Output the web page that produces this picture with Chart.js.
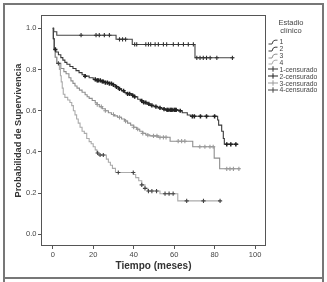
<!DOCTYPE html>
<html><head><meta charset="utf-8">
<script src="https://cdn.jsdelivr.net/npm/chart.js@4/dist/chart.umd.min.js"></script>
<style>
html,body{margin:0;padding:0;background:#fff;}
#wrap{position:relative;width:327px;height:282px;overflow:hidden;background:#fff;}
#c{position:absolute;left:0;top:0;}
#frame{position:absolute;left:3px;top:3px;width:321px;height:276px;border:2px solid #777;box-sizing:border-box;}
#frame2{position:absolute;left:3px;top:279px;width:321px;height:10px;border-left:2px solid #777;border-right:2px solid #777;box-sizing:border-box;}
#ltitle{position:absolute;left:266px;top:19px;width:50px;text-align:center;font:7.5px "Liberation Sans",Arial,sans-serif;line-height:7.8px;color:#444;}
#legend{position:absolute;left:268px;top:38.3px;font:6.8px "Liberation Sans",Arial,sans-serif;color:#444;}
.row{height:6.9px;display:flex;align-items:center;white-space:nowrap;}
.row svg{width:10px;height:6px;margin-right:1.5px;flex:none;}
</style></head>
<body>
<div id="wrap">
<canvas id="c" width="327" height="282"></canvas>
<div id="frame"></div><div id="frame2"></div>
<div id="ltitle">Estadio<br>clínico</div>
<div id="legend"></div>
</div>
<script>
// ---- data ----
const stageLabels = ['1', '2', '3', '4'];
const censorSuffix = '-censurado';
const xTicks = [0, 20, 40, 60, 80, 100];
const yTicks = [0, 0.2, 0.4, 0.6, 0.8, 1.0];

const times1 = [0, 0.5, 2, 31.3, 39.3, 70.3, 89.5];
const surv1  = [1.0, 0.984, 0.967, 0.947, 0.922, 0.857, 0.857];
const censor1 = [14, 21.4, 23, 25.5, 28, 33, 34.5, 36, 40.5, 41.5, 46, 47.3, 48.4, 50.6, 52.2, 54.7, 56.3, 59.6, 62.1, 64.6, 67, 69.5, 71.2, 72.8, 74.4, 76, 77.8, 81.1, 88.8];

const times2 = [0, 0.3, 0.7, 1.5, 2.8, 4.0, 5.0, 6.0, 7.0, 8.5, 10, 11.5, 13, 14.5, 16, 18, 20, 22, 24, 26, 28, 29.5, 31, 32.5, 34, 35.5, 37, 39, 40.5, 42, 43.5, 45, 46.5, 48, 50, 52, 54, 56, 62, 64, 66.5, 68, 81.5, 82, 83.5, 84.3, 84.8, 91.8];
const surv2  = [1.0, 0.95, 0.898, 0.885, 0.872, 0.858, 0.846, 0.835, 0.826, 0.815, 0.805, 0.795, 0.785, 0.775, 0.768, 0.76, 0.752, 0.747, 0.742, 0.737, 0.732, 0.726, 0.716, 0.706, 0.697, 0.688, 0.682, 0.675, 0.668, 0.656, 0.648, 0.64, 0.633, 0.626, 0.62, 0.614, 0.608, 0.604, 0.6, 0.59, 0.579, 0.573, 0.555, 0.53, 0.5, 0.465, 0.437, 0.437];
const censor2 = [1.3, 16, 21, 22, 22.5, 23.5, 24.5, 25, 26, 27, 28, 29, 30, 31.5, 33, 35, 37, 38, 39.5, 40.5, 44, 45, 46, 47.5, 49, 51, 53, 55, 56.5, 57, 58, 58.5, 59, 60, 60.5, 61, 63, 69, 70, 73, 76, 80, 86, 88, 90.5];

const times3 = [0, 0.3, 0.8, 1.2, 2.0, 4, 5.5, 6.6, 8, 9, 10, 11, 12, 13.2, 14.5, 16, 17, 18, 19.5, 21, 22, 23, 24.5, 26, 27.5, 29, 30.5, 32, 34, 35.5, 37, 38.5, 40, 41.5, 43, 44.5, 46, 48, 52, 58, 69.2, 79.8, 82.5, 92.5];
const surv3  = [1.0, 0.95, 0.9, 0.86, 0.83, 0.805, 0.79, 0.78, 0.76, 0.745, 0.733, 0.72, 0.71, 0.70, 0.69, 0.678, 0.668, 0.66, 0.65, 0.638, 0.63, 0.62, 0.61, 0.60, 0.59, 0.582, 0.575, 0.568, 0.56, 0.55, 0.54, 0.53, 0.52, 0.51, 0.50, 0.49, 0.482, 0.478, 0.471, 0.452, 0.425, 0.37, 0.318, 0.318];
const censor3 = [22, 24, 26, 30, 33, 36, 40, 42, 44.5, 47, 49.8, 51.5, 53, 54.7, 56, 62, 63.7, 65.3, 72.7, 75.2, 77.7, 79.3, 86, 87.6, 89.3, 92];

const times4 = [0, 0.3, 0.8, 1.3, 2, 3.3, 3.8, 4.2, 4.7, 5.2, 6, 7.4, 8.5, 9.4, 10.2, 11, 11.8, 12.6, 13.5, 14.5, 15.6, 16.8, 18, 19, 20, 21, 21.8, 22.5, 26.5, 27.5, 28.5, 29.5, 31, 39.9, 41, 42.5, 44, 45.6, 47, 53, 61.8, 83];
const surv4  = [1.0, 0.95, 0.9, 0.86, 0.83, 0.80, 0.77, 0.74, 0.71, 0.68, 0.665, 0.652, 0.64, 0.625, 0.60, 0.58, 0.56, 0.54, 0.52, 0.50, 0.49, 0.465, 0.45, 0.44, 0.425, 0.41, 0.395, 0.385, 0.365, 0.35, 0.335, 0.32, 0.30, 0.29, 0.275, 0.26, 0.24, 0.223, 0.21, 0.197, 0.162, 0.162];
const censor4 = [2.8, 22.2, 23.4, 25, 32.4, 39.8, 44, 45.6, 47.3, 49, 51.3, 55.5, 57.5, 59.5, 66.2, 74.5, 82.7];

// ---- styles ----
const lineColors = ['#444444', '#3a3a3a', '#8e8e8e', '#ababab'];
const censorColors = ['#333333', '#222222', '#9a9a9a', '#444444'];

function stepAt(times, surv, t) {
  let v = surv[0];
  for (let i = 0; i < times.length; i++) { if (times[i] <= t) v = surv[i]; else break; }
  return v;
}

const curves = [[times1, surv1, censor1], [times2, surv2, censor2], [times3, surv3, censor3], [times4, surv4, censor4]];
const datasets = [];
curves.forEach((c, i) => {
  datasets.push({
    label: stageLabels[i],
    data: c[0].map((t, j) => ({x: t, y: c[1][j]})),
    stepped: 'before', borderColor: lineColors[i], borderWidth: 1.1,
    pointRadius: 0, fill: false, kind: 'line', order: 2
  });
});
curves.forEach((c, i) => {
  datasets.push({
    label: stageLabels[i] + censorSuffix,
    data: c[2].map(t => ({x: t, y: stepAt(c[0], c[1], t)})),
    showLine: false, pointStyle: 'cross', pointRadius: 2.1,
    borderColor: censorColors[i], backgroundColor: censorColors[i],
    borderWidth: i === 1 ? 1.5 : 1.1, kind: 'censor', order: 1
  });
});

const framePlugin = {
  id: 'frame',
  afterDraw(chart) {
    const a = chart.chartArea, ctx = chart.ctx;
    ctx.save();
    ctx.strokeStyle = '#555';
    ctx.lineWidth = 1;
    ctx.strokeRect(a.left + 0.5, a.top + 0.5, a.right - a.left - 1, a.bottom - a.top - 1);
    ctx.restore();
  }
};

const tickFont = {family: '"Liberation Sans", Arial, sans-serif', size: 7.5};
const chart = new Chart(document.getElementById('c'), {
  type: 'line',
  data: {datasets},
  plugins: [framePlugin],
  options: {
    responsive: false, animation: false,
    layout: {padding: {left: 0, top: 15, right: 61, bottom: 0}},
    plugins: {legend: {display: false}, tooltip: {enabled: false}},
    scales: {
      x: {
        type: 'linear', min: -5.8, max: 105.4,
        afterBuildTicks: s => { s.ticks = xTicks.map(v => ({value: v})); },
        afterFit: s => { s.height = 36; },
        grid: {drawOnChartArea: false, drawTicks: true, tickLength: 3, color: '#555'},
        border: {display: false},
        ticks: {font: tickFont, color: '#444', padding: 1, maxRotation: 0, callback: v => String(v)},
        title: {display: true, text: 'Tiempo (meses)', color: '#333',
          font: {family: '"Liberation Sans", Arial, sans-serif', size: 10, weight: 'bold'},
          padding: {top: 0, bottom: 10}}
      },
      y: {
        type: 'linear', min: -0.057, max: 1.065,
        afterBuildTicks: s => { s.ticks = yTicks.map(v => ({value: v})); },
        afterFit: s => { s.width = 41; },
        grid: {drawOnChartArea: false, drawTicks: true, tickLength: 3, color: '#555'},
        border: {display: false},
        ticks: {font: tickFont, color: '#444', padding: 1.5, callback: v => v.toFixed(1)},
        title: {display: true, text: 'Probabilidad de Supervivencia', color: '#333',
          font: {family: '"Liberation Sans", Arial, sans-serif', size: 9.2, weight: 'bold'},
          padding: {top: 13.4, bottom: 0}}
      }
    }
  }
});

// ---- HTML legend built from datasets ----
const legendEl = document.getElementById('legend');
chart.data.datasets.forEach(ds => {
  const row = document.createElement('div');
  row.className = 'row';
  const col = ds.borderColor;
  let svg;
  if (ds.kind === 'line') {
    svg = '<svg viewBox="0 0 10 6"><path d="M0.5,5 H4 Q5,1 7,1.2 H9.5" fill="none" stroke="' + col + '" stroke-width="1"/></svg>';
  } else {
    svg = '<svg viewBox="0 0 10 6"><path d="M0,3 H10 M5,0.3 V5.7" fill="none" stroke="' + col + '" stroke-width="1"/></svg>';
  }
  row.innerHTML = svg + '<span>' + ds.label + '</span>';
  legendEl.appendChild(row);
});
</script>
</body></html>
